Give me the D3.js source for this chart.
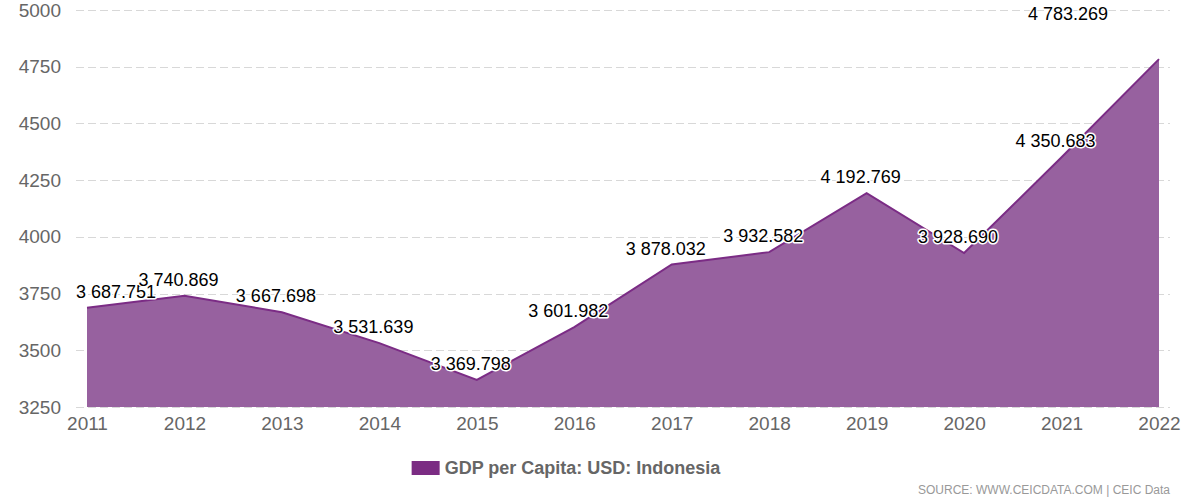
<!DOCTYPE html>
<html>
<head>
<meta charset="utf-8">
<script src="https://cdn.jsdelivr.net/npm/d3@7"></script>
<style>
  html, body { margin: 0; padding: 0; background: #fff; }
  svg { display: block; font-family: "Liberation Sans", Arial, sans-serif; }
</style>
</head>
<body>
<svg width="1200" height="500"></svg>
<script>
const YEARS = ['2011', '2012', '2013', '2014', '2015', '2016', '2017', '2018', '2019', '2020', '2021', '2022'];
const GDP_PER_CAPITA = [3687.751, 3740.869, 3667.698, 3531.639, 3369.798, 3601.982, 3878.032, 3932.582, 4192.769, 3928.690, 4350.683, 4783.269];
const Y_TICKS = [3250, 3500, 3750, 4000, 4250, 4500, 4750, 5000];
const SERIES_NAME = 'GDP per Capita: USD: Indonesia';
const SOURCE = 'SOURCE: WWW.CEICDATA.COM | CEIC Data';

const svg = d3.select('svg');
const W = 1200, H = 500;
const margin = { top: 10, right: 41, bottom: 93, left: 87 };
const width = W - margin.left - margin.right;
const height = H - margin.top - margin.bottom;

const data = YEARS.map((y, i) => ({ year: y, value: GDP_PER_CAPITA[i] }));

const x = d3.scalePoint().domain(YEARS).range([0, width]);
const y = d3.scaleLinear().domain([3250, 5000]).range([height, 0]);

const g = svg.append('g').attr('transform', `translate(${margin.left},${margin.top})`);

// grid lines
g.append('g')
  .selectAll('line')
  .data(Y_TICKS)
  .enter().append('line')
    .attr('x1', -11)
    .attr('x2', width + 11)
    .attr('y1', d => Math.round(y(d)) + 0.5)
    .attr('y2', d => Math.round(y(d)) + 0.5)
    .attr('stroke', '#d8d8d8')
    .attr('stroke-dasharray', '8,4');

// area + line
const area = d3.area()
  .x(d => x(d.year))
  .y0(height)
  .y1(d => y(d.value));

const line = d3.line()
  .x(d => x(d.year))
  .y(d => y(d.value));

g.append('path')
  .datum(data)
  .attr('d', area)
  .attr('fill', '#97619f');

g.append('path')
  .datum(data)
  .attr('d', line)
  .attr('fill', 'none')
  .attr('stroke', '#7b2c85')
  .attr('stroke-width', 2);

// y axis
g.append('g')
  .call(d3.axisLeft(y).tickValues(Y_TICKS).tickSize(0).tickPadding(26).tickFormat(d3.format('d')))
  .call(ax => ax.select('.domain').remove())
  .selectAll('text')
    .attr('font-size', 19)
    .attr('font-family', '"Liberation Sans", Arial, sans-serif')
    .attr('fill', '#666');

// x axis
g.append('g')
  .attr('transform', `translate(0,${height})`)
  .call(d3.axisBottom(x).tickSize(0).tickPadding(10))
  .call(ax => ax.select('.domain').remove())
  .selectAll('text')
    .attr('font-size', 19)
    .attr('font-family', '"Liberation Sans", Arial, sans-serif')
    .attr('fill', '#666');

// data labels
const fmt = v => d3.format(',.3f')(v).replace(/,/g, ' ');
const labels = g.append('g')
  .attr('font-size', 18)
  .attr('text-anchor', 'middle')
  .selectAll('text')
  .data(data)
  .enter().append('text')
    .attr('paint-order', 'stroke')
    .attr('stroke', '#fff')
    .attr('stroke-width', 3)
    .attr('stroke-linejoin', 'round')
    .attr('fill', '#000')
    .text(d => fmt(d.value));

labels.each(function (d) {
  const t = d3.select(this);
  const w = this.getComputedTextLength();
  let cx = x(d.year) - 6;
  let cy = y(d.value) - 10;
  if (cx - w / 2 < -11) cx = -11 + w / 2;
  if (cx + w / 2 > width - 10) {
    // no room on the right: sit left of and above the point
    cx = x(d.year) - 51 - w / 2;
    cy = y(d.value) - 39;
  }
  t.attr('x', cx).attr('y', cy);
});

// legend
const legend = svg.append('g').attr('transform', `translate(${W / 2 - 34},468)`);
const legendText = legend.append('text')
  .attr('font-size', 18)
  .attr('font-weight', 'bold')
  .attr('fill', '#666')
  .attr('dy', '0.35em')
  .text(SERIES_NAME);
const lw = legendText.node().getComputedTextLength();
const total = 28 + 5 + lw;
legend.insert('rect', 'text')
  .attr('x', -total / 2)
  .attr('y', -7)
  .attr('width', 28)
  .attr('height', 14)
  .attr('fill', '#7b2c83');
legendText.attr('x', -total / 2 + 33);

// source
svg.append('text')
  .attr('x', 1170)
  .attr('y', 494)
  .attr('text-anchor', 'end')
  .attr('font-size', 12)
  .attr('fill', '#999')
  .text(SOURCE);
</script>
</body>
</html>
